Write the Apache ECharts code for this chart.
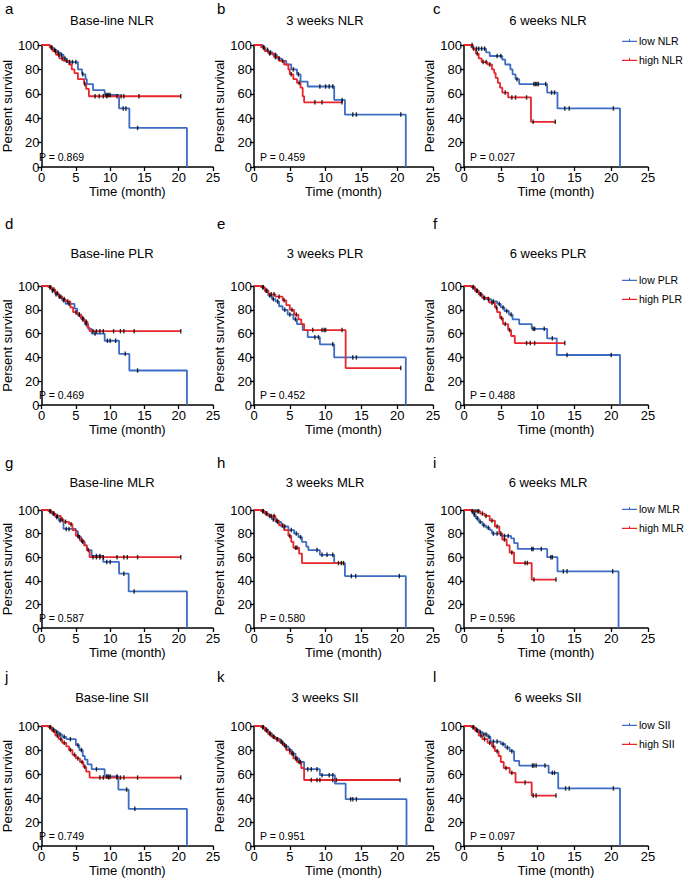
<!DOCTYPE html>
<html><head><meta charset="utf-8">
<script src="https://cdn.jsdelivr.net/npm/echarts@6.0.0/dist/echarts.min.js"></script>
<style>html,body{margin:0;padding:0;background:#fff}#c{width:685px;height:881px}</style>
</head><body><div id="c"></div>
<script>
// ---------- data: Kaplan-Meier steps [time (month), percent survival] ----------
const a_low  = [[0,100],[1.2,98],[1.7,96],[2.2,94],[2.7,92],[3.2,89],[3.6,86],[5.3,80],[5.9,76],[6.4,72],[6.6,68],[7.5,63],[9.2,59],[11.3,48],[12.8,32],[21.2,0]];
const a_high = [[0,100],[1.2,98],[1.6,95],[2.1,92],[2.6,89],[3.2,87],[4.0,84],[4.4,80],[4.8,77],[5.3,72],[6.2,68],[6.5,64],[6.9,58],[20.3,58]];
const a_lowC  = [1.5,1.9,2.4,2.9,3.4,4.1,4.5,5.0,6.0,9.4,9.6,9.8,10.0,11.9,12.3,14.0];
const a_highC = [1.4,2.0,2.5,3.0,3.7,6.3,7.8,8.4,9.0,9.5,11.0,11.6,12.0,14.2,20.3];

const b_low  = [[0,100],[1.2,98],[1.6,96],[2.0,94],[2.6,92],[3.2,89],[3.8,87],[4.5,84],[5.2,80],[6.0,76],[6.5,70],[7.5,66],[11.2,55],[12.7,43],[21.2,0]];
const b_high = [[0,100],[1.0,98],[1.5,95],[2.0,93],[2.8,90],[3.5,87],[4.2,84],[4.8,80],[5.0,76],[5.5,72],[6.0,69],[6.5,65],[6.8,58],[7.0,53],[12.3,53]];
const b_lowC  = [1.4,1.9,2.3,3.0,3.5,4.0,5.5,6.2,9.2,10.0,10.5,11.0,12.3,13.8,14.3,20.5];
const b_highC = [1.3,2.2,3.0,5.2,6.3,8.5,9.5,12.3];

const c_low  = [[0,100],[1.0,98],[1.2,97],[3.0,94],[3.5,91],[5.2,88],[5.6,84],[6.3,80],[6.6,76],[7.0,72],[7.5,68],[11.3,61],[12.7,48],[21.2,0]];
const c_high = [[0,100],[1.2,97],[1.6,93],[2.0,89],[2.4,86],[3.2,84],[3.8,80],[4.1,77],[4.3,73],[4.6,69],[4.9,65],[5.2,61],[6.0,57],[9.1,37],[12.4,37]];
const c_lowC  = [1.3,1.7,2.0,2.4,2.8,4.5,5.0,7.2,9.5,9.7,9.9,10.1,11.1,11.9,12.3,13.7,14.3,20.3];
const c_highC = [1.1,1.8,2.6,3.0,3.5,5.6,6.5,7.0,8.5,9.4,12.4];

const d_low  = [[0,100],[1.0,99],[1.5,96],[2.0,93],[2.5,91],[3.0,88],[3.5,85],[4.8,81],[5.2,76],[5.8,72],[6.3,68],[6.8,64],[7.3,60],[9.2,54],[11.3,43],[12.8,29],[21.2,0]];
const d_high = [[0,100],[1.0,99],[1.5,97],[2.0,94],[2.5,91],[3.0,89],[3.5,87],[4.2,82],[4.6,78],[5.2,76],[5.7,73],[6.2,70],[6.7,65],[7.0,62],[20.3,62]];
const d_lowC  = [1.2,1.6,2.1,2.6,3.2,4.0,5.5,6.0,6.5,7.8,9.6,10.0,10.8,12.2,14.0];
const d_highC = [1.3,1.8,2.3,2.8,3.3,3.8,5.0,5.5,6.0,6.5,7.5,8.0,8.5,9.0,10.5,11.5,12.0,13.5,20.3];

const e_low  = [[0,100],[1.0,99],[1.5,96],[2.0,92],[2.5,89],[3.0,87],[3.5,83],[4.0,80],[4.7,76],[5.5,72],[6.0,68],[6.8,63],[7.5,57],[9.2,51],[11.2,40],[21.2,0]];
const e_high = [[0,100],[1.0,99],[1.5,96],[2.0,93],[3.0,91],[4.0,88],[4.5,84],[5.0,80],[5.6,76],[6.2,72],[6.6,68],[7.0,63],[12.8,31],[20.5,31]];
const e_lowC  = [1.2,1.7,2.2,2.7,3.3,4.3,5.0,5.8,8.5,9.0,11.0,13.8,14.3];
const e_highC = [1.3,1.8,2.4,2.8,3.5,4.2,5.3,5.9,8.2,9.5,9.8,10.0,12.3,20.5];

const f_low  = [[0,100],[1.0,99],[1.5,96],[2.0,93],[2.5,90],[3.0,89],[3.7,87],[4.5,85],[5.0,82],[5.5,79],[6.1,76],[6.6,72],[7.5,68],[9.2,64],[11.3,56],[12.6,42],[21.2,0]];
const f_high = [[0,100],[1.0,99],[1.5,96],[2.0,93],[2.5,90],[3.4,86],[4.2,82],[4.5,78],[4.9,73],[5.3,68],[6.0,63],[6.4,58],[6.9,52],[13.7,52]];
const f_lowC  = [1.2,1.7,2.2,2.7,3.3,4.0,4.8,5.3,5.8,6.4,9.4,9.6,10.9,12.0,14.0,20.0];
const f_highC = [1.3,1.8,2.3,2.8,3.8,4.4,5.1,5.6,6.2,8.5,9.0,9.6,13.7];

const g_low  = [[0,100],[1.0,99],[1.5,97],[2.0,94],[2.5,91],[3.2,84],[5.0,82],[5.3,77],[5.8,73],[6.3,70],[6.6,66],[7.3,61],[9.0,56],[11.3,46],[12.7,31],[21.2,0]];
const g_high = [[0,100],[1.0,99],[1.5,97],[2.0,95],[2.8,92],[3.2,90],[4.0,88],[4.5,83],[5.0,78],[5.6,74],[6.2,70],[6.6,66],[7.0,60],[20.3,60]];
const g_lowC  = [1.2,1.7,2.2,2.7,3.6,4.0,5.5,6.0,6.8,8.0,8.5,9.5,10.0,12.0,13.5];
const g_highC = [1.3,1.8,2.3,3.0,3.5,4.3,5.3,5.9,7.5,8.0,8.5,9.0,11.0,12.0,12.5,14.0,20.3];

const h_low  = [[0,100],[1.0,99],[1.5,97],[2.0,95],[2.5,92],[3.0,90],[3.8,86],[4.8,83],[5.6,80],[6.2,77],[6.7,73],[7.3,69],[7.6,66],[9.2,62],[11.2,55],[12.7,44],[21.2,0]];
const h_high = [[0,100],[1.0,99],[1.5,97],[2.0,95],[3.0,91],[3.5,87],[4.2,83],[4.8,78],[5.2,73],[5.5,68],[6.3,63],[6.7,55],[12.5,55]];
const h_lowC  = [1.2,1.7,2.2,2.7,3.3,4.3,5.2,5.9,6.5,8.8,9.5,10.2,11.0,11.8,12.2,13.6,14.2,20.3];
const h_highC = [1.3,1.8,2.4,2.8,3.2,4.0,5.0,5.8,6.0,12.5];

const i_low  = [[0,100],[1.0,99],[1.3,96],[1.6,93],[2.0,90],[2.5,87],[3.0,85],[3.5,83],[3.8,80],[5.0,78],[6.4,76],[6.8,72],[7.3,67],[11.3,60],[12.7,48],[21.0,0]];
const i_high = [[0,100],[1.0,99],[2.2,97],[2.8,95],[3.5,91],[4.2,86],[4.8,80],[5.2,75],[5.8,70],[6.2,64],[6.8,55],[9.2,41],[12.5,41]];
const i_lowC  = [1.1,1.4,1.8,2.2,2.7,3.3,4.0,4.5,5.5,6.0,9.2,9.4,10.5,11.8,12.0,13.5,14.0,20.2];
const i_highC = [1.2,1.5,1.8,2.0,2.5,3.0,3.8,4.5,5.0,5.5,6.5,8.3,8.6,9.5,12.5];

const j_low  = [[0,100],[1.0,99],[1.5,97],[2.0,95],[2.5,93],[3.0,91],[3.6,89],[5.0,84],[5.5,80],[6.0,75],[6.3,72],[6.7,68],[7.3,64],[9.2,58],[11.2,47],[12.7,31],[21.2,0]];
const j_high = [[0,100],[1.0,99],[1.5,96],[2.0,92],[2.5,89],[3.0,86],[3.6,83],[4.0,80],[4.5,76],[5.0,73],[5.6,70],[6.1,66],[6.5,62],[7.0,57],[20.3,57]];
const j_lowC  = [1.2,1.7,2.2,2.7,3.3,4.2,5.3,5.8,8.0,9.5,9.7,10.0,11.0,12.4,13.6];
const j_highC = [1.3,1.8,2.3,2.8,3.3,4.2,4.8,5.3,5.9,6.3,8.5,9.0,9.8,11.0,11.5,12.0,14.0,20.3];

const k_low  = [[0,100],[1.0,99],[1.5,97],[2.0,94],[2.5,91],[3.0,89],[3.7,86],[4.2,83],[4.8,80],[5.3,77],[5.8,73],[6.3,70],[7.0,64],[9.2,59],[11.3,52],[12.8,39],[21.3,0]];
const k_high = [[0,100],[1.0,99],[1.5,96],[2.0,93],[2.5,91],[3.0,89],[3.5,87],[4.0,84],[4.5,80],[5.0,77],[5.5,73],[6.0,70],[6.6,65],[7.0,55],[20.4,55]];
const k_lowC  = [1.2,1.7,2.2,2.7,3.3,4.0,4.5,5.0,5.5,6.0,6.5,7.5,8.0,8.8,9.5,10.5,11.0,13.5,13.8,14.3];
const k_highC = [1.3,1.8,2.3,2.8,3.2,3.8,4.3,5.3,5.8,6.3,8.0,8.8,9.2,11.0,11.5,20.4];

const l_low  = [[0,100],[1.0,99],[1.5,97],[2.0,95],[2.5,93],[3.2,91],[3.6,87],[5.0,85],[5.6,82],[6.2,79],[6.8,71],[7.5,67],[11.5,61],[12.8,48],[21.2,0]];
const l_high = [[0,100],[1.0,99],[1.5,96],[2.0,92],[2.5,89],[3.2,86],[3.8,83],[4.2,79],[4.7,75],[5.0,70],[5.4,65],[6.2,61],[7.0,53],[9.2,42],[12.5,42]];
const l_lowC  = [1.2,1.7,2.2,2.7,3.0,3.4,4.0,4.5,5.3,5.9,6.5,9.3,9.5,9.8,11.0,12.0,12.3,13.8,14.3,20.3];
const l_highC = [1.3,1.8,2.3,2.8,3.5,4.0,4.5,5.7,6.5,8.3,9.4,9.8,12.5];

const letters = ['a','b','c','d','e','f','g','h','i','j','k','l'];
const titles = ['Base-line NLR','3 weeks NLR','6 weeks NLR','Base-line PLR','3 weeks PLR','6 weeks PLR',
                'Base-line MLR','3 weeks MLR','6 weeks MLR','Base-line SII','3 weeks SII','6 weeks SII'];
const pValues = ['0.869','0.459','0.027','0.469','0.452','0.488','0.587','0.580','0.596','0.749','0.951','0.097'];
const markers = ['NLR','PLR','MLR','SII'];
const xTicks = [0,5,10,15,20,25];
const yTicks = [0,20,40,60,80,100];

const lowCurves  = [a_low,b_low,c_low,d_low,e_low,f_low,g_low,h_low,i_low,j_low,k_low,l_low];
const highCurves = [a_high,b_high,c_high,d_high,e_high,f_high,g_high,h_high,i_high,j_high,k_high,l_high];
const lowCens  = [a_lowC,b_lowC,c_lowC,d_lowC,e_lowC,f_lowC,g_lowC,h_lowC,i_lowC,j_lowC,k_lowC,l_lowC];
const highCens = [a_highC,b_highC,c_highC,d_highC,e_highC,f_highC,g_highC,h_highC,i_highC,j_highC,k_highC,l_highC];

// ---------- layout ----------
const FONT = '"Liberation Sans", Arial, Helvetica, sans-serif';
const BLUE = '#3d6cc4', RED = '#e8262c';
const colLeft = [33, 254, 464], colWidth = [180, 179, 184];
const rowTop = [45, 286, 510, 726], rowHeight = [122, 119, 118, 120];
const titleX = [112, 325, 548], titleY = [20.5, 253.5, 482, 697.5];
const letterX = [5, 217, 433], letterY = [8, 223, 462, 676];
const legendTop = [35, 274, 503, 719];

function kmAt(curve, t) {
  let s = curve[0][1];
  for (const p of curve) { if (p[0] <= t) s = p[1]; else break; }
  return s;
}

const grid = [], xAxis = [], yAxis = [], series = [], graphic = [], legend = [];
for (let i = 0; i < 12; i++) {
  const r = Math.floor(i / 3), c = i % 3, m = markers[r];
  grid.push({left: colLeft[c], top: rowTop[r], width: colWidth[c], height: rowHeight[r], containLabel: false});
  xAxis.push({
    type: 'value', gridIndex: i, min: xTicks[0], max: xTicks[xTicks.length-1], interval: 5,
    name: 'Time (month)', nameLocation: 'middle', nameGap: 17,
    nameTextStyle: {fontSize: 13, color: '#000', fontFamily: FONT},
    axisLine: {show: true, onZero: false, lineStyle: {color: '#000', width: 1.5}},
    axisTick: {show: true, length: 4, lineStyle: {color: '#000', width: 1.3}},
    axisLabel: {fontSize: 13, color: '#000', margin: 4, fontFamily: FONT},
    splitLine: {show: false}
  });
  yAxis.push({
    type: 'value', gridIndex: i, min: yTicks[0], max: yTicks[yTicks.length-1], interval: 20,
    name: 'Persent survival', nameLocation: 'middle', nameGap: 19,
    nameTextStyle: {fontSize: 13, color: '#000', fontFamily: FONT},
    axisLine: {show: true, onZero: false, lineStyle: {color: '#000', width: 1.5}},
    axisTick: {show: true, length: 4, lineStyle: {color: '#000', width: 1.3}},
    axisLabel: {fontSize: 13, color: '#000', margin: 2, fontFamily: FONT},
    splitLine: {show: false}
  });
  const lineBase = {type: 'line', step: 'end', symbol: 'none', xAxisIndex: i, yAxisIndex: i, silent: true, clip: false};
  series.push(Object.assign({}, lineBase, {name: 'low ' + m, data: lowCurves[i], color: BLUE,
    itemStyle: {color: BLUE}, lineStyle: {color: BLUE, width: 1.8}, z: 2}));
  series.push(Object.assign({}, lineBase, {name: 'high ' + m, data: highCurves[i], color: RED,
    itemStyle: {color: RED}, lineStyle: {color: RED, width: 1.8}, z: 3}));
  const censBase = {type: 'scatter', xAxisIndex: i, yAxisIndex: i, symbol: 'rect', symbolSize: [1.4, 4.5],
    itemStyle: {color: '#000'}, silent: true, z: 5};
  series.push(Object.assign({}, censBase, {name: 'censored', data: lowCens[i].map(t => [t, kmAt(lowCurves[i], t)])}));
  series.push(Object.assign({}, censBase, {name: 'censored', data: highCens[i].map(t => [t, kmAt(highCurves[i], t)])}));

  graphic.push({type: 'text', x: titleX[c], y: titleY[r], silent: true,
    style: {text: titles[i], fontSize: 13, fontFamily: FONT, fill: '#000', align: 'center', verticalAlign: 'middle'}});
  graphic.push({type: 'text', x: letterX[c], y: letterY[r], silent: true,
    style: {text: letters[i], fontSize: 15, fontFamily: FONT, fill: '#000', align: 'left', verticalAlign: 'middle'}});
  graphic.push({type: 'text', x: colLeft[c] + 6, y: rowTop[r] + rowHeight[r] - 10, silent: true,
    style: {text: 'P = ' + pValues[i], fontSize: 10.5, fontFamily: FONT, fill: '#000', align: 'left', verticalAlign: 'middle'}});
}
for (let r = 0; r < 4; r++) {
  legend.push({
    data: ['low ' + markers[r], 'high ' + markers[r]], orient: 'vertical', left: 622, top: legendTop[r],
    padding: 0, itemGap: 8, itemWidth: 15, itemHeight: 8, selectedMode: false,
    icon: 'path://M0,3.4H15V4.6H0Z M7,1.5H8V4H7Z',
    textStyle: {fontSize: 10.5, color: '#000', fontFamily: FONT, padding: [0, 0, 0, -3]}
  });
}

const chart = echarts.init(document.getElementById('c'), null, {renderer: 'svg', width: 685, height: 881});
chart.setOption({
  backgroundColor: '#fff', animation: false,
  grid, xAxis, yAxis, series, legend, graphic
});
</script></body></html>
